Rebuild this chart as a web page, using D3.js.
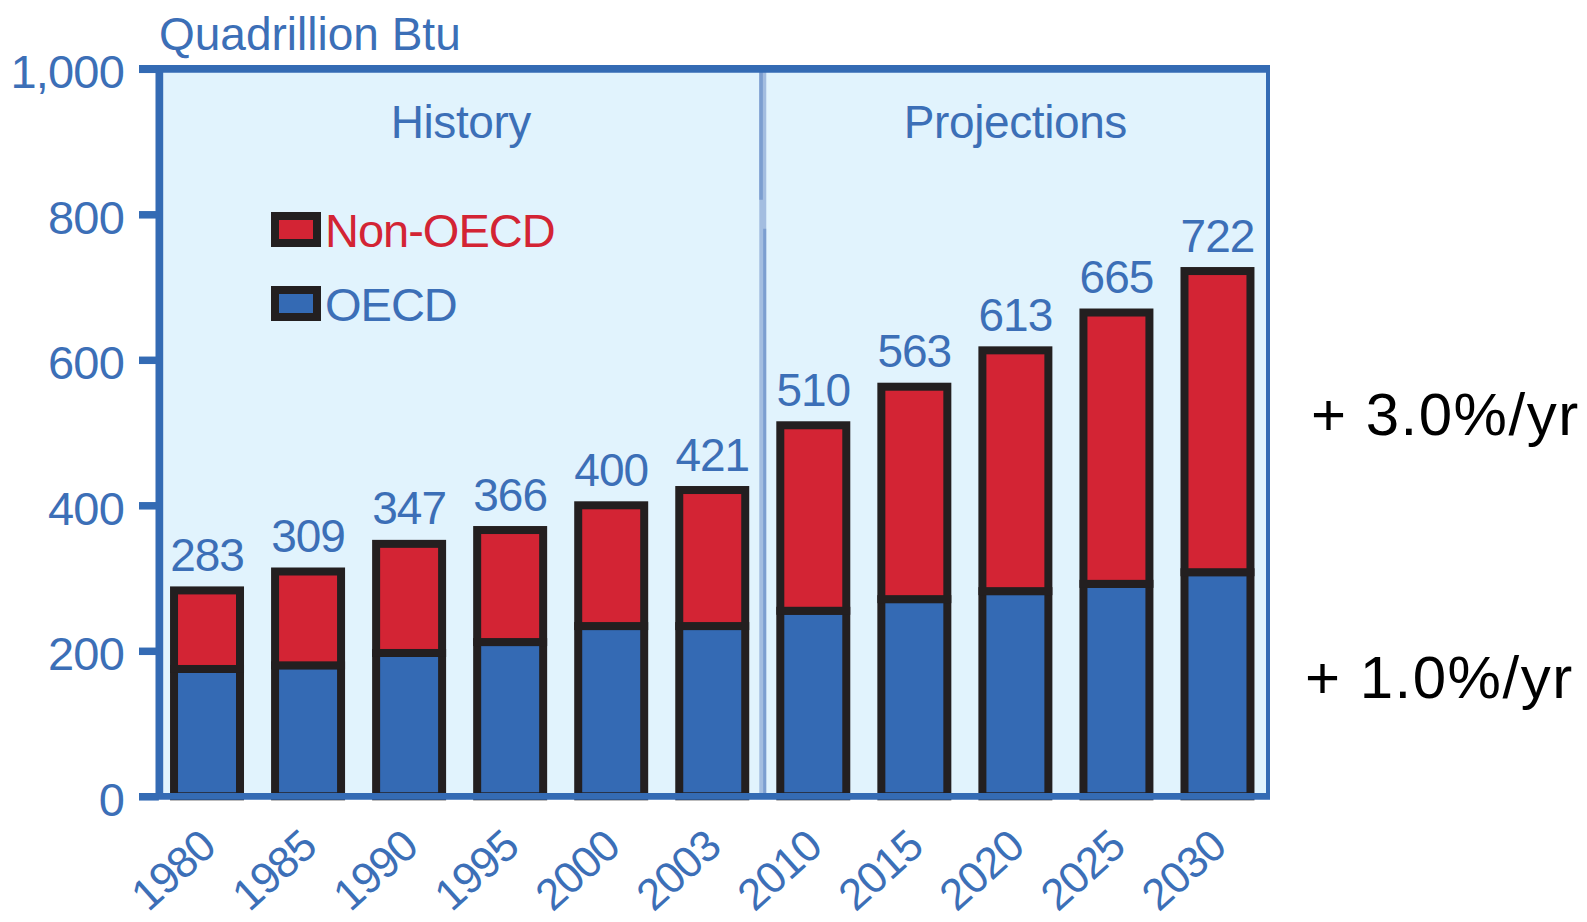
<!DOCTYPE html>
<html><head><meta charset="utf-8">
<script src="https://cdn.jsdelivr.net/npm/d3@7"></script>
<style>
html,body{margin:0;padding:0;background:#fff;}
svg{display:block;font-family:"Liberation Sans",Arial,sans-serif;}
</style></head>
<body>
<svg id="chart" width="1587" height="922"></svg>
<script>
const years = ["1980","1985","1990","1995","2000","2003","2010","2015","2020","2025","2030"];
const totals = [283,309,347,366,400,421,510,563,613,665,722];
const oecd = [175,180,197,212,234,234,255,271,282,292,308];
const nonOecd = [108,129,150,154,166,187,255,292,331,373,414];
const yTicks = [0,200,400,600,800,1000];
const seriesKeys = ["oecd","nonOecd"];
const seriesNames = {oecd:"OECD", nonOecd:"Non-OECD"};
const periods = ["History","Projections"];
const growthNotes = ["+ 3.0%/yr","+ 1.0%/yr"];
const growthLevels = [524,162];

const AX = "#346bb4", TXT = "#3c6fb7", RED = "#d32434", BLUE = "#346ab4", BLK = "#231f20", BG = "#e1f3fd";
const svg = d3.select("#chart");

const rows = years.map((yr,i)=>({year:yr, total:totals[i], oecd:oecd[i], nonOecd:nonOecd[i]}));

const x = d3.scaleBand().domain(years).range([156.5,1268]).paddingInner(0.347).paddingOuter(0.1735);
const y = d3.scaleLinear().domain([0,1000]).range([796.3,68.8]);

const left = 158.85, right = 1268, tickStart = 139;
// plot background
svg.append("rect").attr("x",left).attr("y",y(1000)).attr("width",right-left).attr("height",y(0)-y(1000)).attr("fill",BG);

// divider between history & projections
const divX = (x("2003")+x.bandwidth() + x("2010"))/2;
svg.append("line").attr("x1",divX).attr("x2",divX).attr("y1",y(1000)).attr("y2",y(0)).attr("stroke","#a3bde0").attr("stroke-width",7);
svg.append("line").attr("x1",divX-1.7).attr("x2",divX-1.7).attr("y1",y(1000)).attr("y2",y(820)).attr("stroke","#7c9ed0").attr("stroke-width",3.6);
svg.append("line").attr("x1",divX+1.9).attr("x2",divX+1.9).attr("y1",y(780)).attr("y2",y(0)).attr("stroke","#7c9ed0").attr("stroke-width",3);

// period labels
periods.forEach((p,i)=>{
  const cx = i===0 ? (left+divX)/2 : (divX+right)/2;
  svg.append("text").attr("x",cx).attr("y",138).attr("text-anchor","middle")
    .attr("font-size",46).attr("letter-spacing","-0.4px").attr("fill",TXT).text(p);
});

// stacked bars
const stack = d3.stack().keys(seriesKeys)(rows);
const colors = {oecd:BLUE, nonOecd:RED};
stack.forEach(s=>{
  svg.append("g").selectAll("rect").data(s).join("rect")
    .attr("x",d=>x(d.data.year))
    .attr("width",x.bandwidth())
    .attr("y",d=>y(d[1]))
    .attr("height",d=>y(d[0])-y(d[1]))
    .attr("fill",colors[s.key]).attr("stroke",BLK).attr("stroke-width",8);
});

// value labels
svg.append("g").selectAll("text").data(rows).join("text")
  .attr("x",d=>x(d.year)+x.bandwidth()/2).attr("y",d=>y(d.total)-19.5)
  .attr("text-anchor","middle").attr("font-size",46).attr("letter-spacing","-1px")
  .attr("fill",TXT).text(d=>d.total);

// frame: top and bottom full-width lines, right border
svg.append("line").attr("x1",tickStart).attr("x2",right+2).attr("y1",y(1000)).attr("y2",y(1000)).attr("stroke",AX).attr("stroke-width",7.7);
svg.append("line").attr("x1",right).attr("x2",right).attr("y1",y(1000)).attr("y2",y(0)).attr("stroke",AX).attr("stroke-width",4);
svg.append("line").attr("x1",tickStart).attr("x2",right+2).attr("y1",y(0)).attr("y2",y(0)).attr("stroke",AX).attr("stroke-width",6.7);

// y axis
const yAxis = d3.axisLeft(y).tickValues(yTicks).tickSize(left-tickStart).tickSizeOuter(0).tickPadding(15).tickFormat(d3.format(","));
const ga = svg.append("g").attr("transform",`translate(${left},0)`).call(yAxis);
ga.select(".domain").attr("stroke",AX).attr("stroke-width",7.7);
ga.selectAll(".tick line").attr("stroke",AX).attr("stroke-width",7.5);
ga.selectAll(".tick text").attr("fill",TXT).attr("font-size",47).attr("letter-spacing","-0.8px")
  .attr("font-family","'Liberation Sans',Arial,sans-serif").attr("dy","0.4em");

// unit label
svg.append("text").attr("x",159).attr("y",50).attr("font-size",46).attr("letter-spacing","0px").attr("fill",TXT).text("Quadrillion Btu");

// x labels (rotated)
svg.append("g").selectAll("text").data(years).join("text")
  .attr("transform",d=>`translate(${x(d)+x.bandwidth()/2+11},850) rotate(-42)`)
  .attr("text-anchor","end").attr("font-size",44).attr("letter-spacing","-1px").attr("fill",TXT).text(d=>d);

// legend
const legend = [{key:"nonOecd", y:212},{key:"oecd", y:286}];
legend.forEach(l=>{
  svg.append("rect").attr("x",275).attr("y",l.y+4).attr("width",42).attr("height",27)
    .attr("fill",colors[l.key]).attr("stroke",BLK).attr("stroke-width",8);
  svg.append("text").attr("x",325).attr("y",l.y+35).attr("font-size",47).attr("letter-spacing","-1px")
    .attr("fill",l.key==="nonOecd"?RED:TXT).text(seriesNames[l.key]);
});

// growth annotations
growthNotes.forEach((g,i)=>{
  svg.append("text").attr("x",i===0?1311:1305).attr("y",y(growthLevels[i])+20).attr("font-size",60)
    .attr("letter-spacing","1.5px").attr("fill","#000").style("white-space","pre").text(g);
});
</script>
</body></html>
